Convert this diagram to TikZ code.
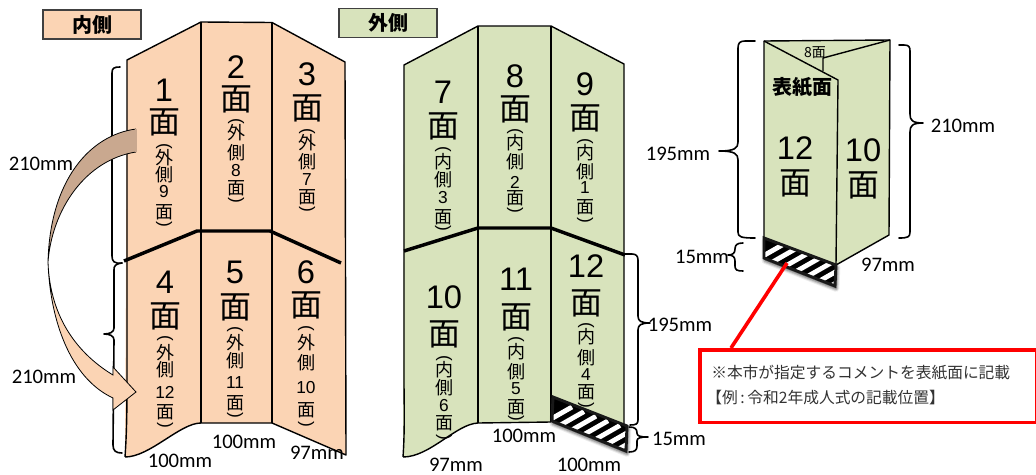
\documentclass[tikz,border=0pt]{standalone}
\usepackage{fontspec}
\setmainfont{Carlito}
\newfontfamily\cjk{Noto Sans CJK JP}
\newfontfamily\lat{Liberation Sans}
\definecolor{peach}{HTML}{FBD4B4}
\definecolor{sage}{HTML}{D8E3BC}
\definecolor{brownish}{HTML}{C9A88F}
\definecolor{boxred}{HTML}{FF0000}
\usetikzlibrary{calc}
\tikzset{
  x=0.75pt,y=-0.75pt,
  panelline/.style={draw=black,line width=1.05pt,line join=round},
  foldline/.style={draw=black,line width=2.6pt,line join=round},
  bracket/.style={draw=black,line width=1.2pt,line cap=round,line join=round},
  titlebox/.style={draw=black!75,line width=1.2pt,minimum width=73.5pt,minimum height=21.5pt,inner sep=0pt,font=\cjk\bfseries\fontsize{15}{15}\selectfont},
  big/.style={inner sep=0pt,font=\cjk\fontsize{24}{24}\selectfont},
  bignum/.style={inner sep=0pt,font=\lat\fontsize{24.5}{24.5}\selectfont},
  small/.style={inner sep=0pt,font=\cjk\fontsize{13.5}{13.5}\selectfont},
  smallnum/.style={inner sep=0pt,font=\lat\fontsize{13}{13}\selectfont},
  paren/.style={inner sep=0pt,font=\lat\fontsize{13}{13}\selectfont},
  dim/.style={inner sep=0pt,font=\fontsize{15.5}{15.5}\selectfont},
}
\newcommand{\facelabel}[9]{%
  \node[bignum] (n#1a) at (#1,#3) {#2};
  \node[big] (n#1b) at (#1,#4) {面};
  \node[paren] (n#1c) at (#1,#5) {\rotatebox{-90}{(}};
  \node[small] (n#1d) at (#1,#6) {#7};
  \node[small] (n#1e) at (#1,#8) {側};
  \facelabelb{#1}{#9}}
\newcommand{\facelabelb}[2]{\facelabelc{#1}#2}
\newcommand{\facelabelc}[5]{%
  \node[smallnum] (n#1f) at (#1,#3) {#2};
  \node[small] (n#1g) at (#1,#4) {面};
  \node[paren] (n#1h) at (#1,#5) {\rotatebox{-90}{)}};}
\newcommand{\strip}[4]{% four corners
  \foreach \s/\o in {5/0.08,3.5/0.12,2/0.18}{
    \draw[black,opacity=\o,line join=round,line width=\s pt,fill=black] ([shift={(1,2.5)}]#1) -- ([shift={(1,2.5)}]#2) -- ([shift={(1,2.5)}]#3) -- ([shift={(1,2.5)}]#4) -- cycle;}
  \begin{scope}
    \clip (#1) -- (#2) -- (#3) -- (#4) -- cycle;
    \fill[black] (#1) -- (#2) -- (#3) -- (#4) -- cycle;
    \foreach \k in {0,1,...,6}{
      \draw[white,line width=3.6pt] ($(#4)+(-8+\k*12,2+\k*4.6)$) -- ++(28,-16);}
  \end{scope}
  \draw[black!90,line width=2.2pt,line join=miter] (#1) -- (#2) -- (#3) -- (#4) -- cycle;}
\begin{document}
\begin{tikzpicture}
\useasboundingbox (0,0) rectangle (1036,475);

% title boxes
\node[titlebox,fill=peach] (tin) at (92,24.5) {内側};
\node[titlebox,fill=sage] (tout) at (388,23) {外側};

% inner sheet
\fill[peach] (127,60) -- (201,22) -- (272,22.5) -- (345,62) -- (346,455) -- (272,423) -- (201,423)
  .. controls (180,423) and (150,457) .. (125,457) -- cycle;
\draw[panelline] (125,457) .. controls (127,430) and (127,400) .. (127,380) -- (127,60) -- (201,22) -- (272,22.5) -- (345,62) -- (346,455) -- (272,423) -- (201,423)
  .. controls (180,423) and (150,457) .. (125,457);
\draw[panelline] (201,22) -- (201,423);
\draw[panelline] (272,22.5) -- (272,423);
\draw[foldline] (124,261) -- (197,231) -- (270,231) -- (341,263);

% inner braces
\draw[bracket] (120,67) .. controls (114,67) and (112,68) .. (112,73) -- (112,256) .. controls (112,261) and (114,264) .. (122,263);
\draw[bracket] (122,263) .. controls (115,264) and (114,266) .. (114,270) -- (114,328) .. controls (114,332) and (110,334) .. (104,334) .. controls (110,334) and (114,336) .. (114,340) -- (113,445) .. controls (113,451) and (116,453) .. (122,453);

% outer sheet
\fill[sage] (404,65) -- (478,26) -- (551,26) -- (624,64) -- (624,425) -- (551,422) -- (478,423)
  .. controls (456,424) and (430,457) .. (403,457) -- cycle;
\draw[panelline] (403,457) .. controls (405,430) and (404,400) .. (404,380) -- (404,65) -- (478,26) -- (551,26) -- (624,64) -- (624,425);
\draw[panelline] (403,457) .. controls (430,457) and (456,424) .. (478,423) -- (551,422);
\draw[panelline] (478,26) -- (478,423);
\draw[panelline] (551,26) -- (551,422);
\draw[foldline] (404,251) -- (478,228) -- (551,228) -- (625,255);

\draw[bracket] (625,254) -- (632,254) .. controls (636,254) and (638,256) .. (638,260) -- (638,316) .. controls (638,321) and (641,323) .. (650,323) .. controls (641,323) and (638,325) .. (638,330) -- (638,420) .. controls (638,424) and (636,425) .. (630,425);
\draw[bracket] (629,427) .. controls (635,427) and (637,429) .. (637,433) .. controls (637,436) and (640,437) .. (648,437) .. controls (640,437) and (637,438) .. (637,441) -- (637,446) .. controls (637,450) and (635,452) .. (629,452);

% inner labels
\facelabel{164}{1}{90}{122}{146}{158}{外}{175}{{9}{192}{212}{224}{}}
\facelabel{236}{2}{67}{99}{121}{133}{外}{153}{{8}{171}{188}{200}{}}
\facelabel{307}{3}{74}{108}{131}{143}{外}{162}{{7}{180}{197}{209}{}}
\facelabel{165}{4}{282}{316}{338}{353}{外}{370}{{12}{392}{412}{425}{}}
\facelabel{235}{5}{272}{307}{329}{343}{外}{361}{{11}{383}{403}{415}{}}
\facelabel{306}{6}{272}{305}{328}{343}{外}{363}{{10}{388}{410}{424}{}}
% outer labels
\facelabel{443}{7}{92}{126}{149}{162}{内}{180}{{3}{198}{217}{228}{}}
\facelabel{515}{8}{76}{109}{131}{143}{内}{162}{{2}{182}{198}{210}{}}
\facelabel{585}{9}{84}{118}{141}{153}{内}{172}{{1}{188}{207}{220}{}}
\facelabel{444}{10}{297}{334}{358}{370}{内}{388}{{6}{406}{423}{437}{}}
\facelabel{516}{11}{279}{317}{339}{352}{内}{372}{{5}{389}{407}{418}{}}
\facelabel{586}{12}{266}{303}{325}{337}{内}{358}{{4}{375}{392}{405}{}}

% hatched strip of the outer sheet
\coordinate (sa) at (553,397);
\coordinate (sb) at (627,426);
\coordinate (sc) at (626,451);
\coordinate (sd) at (552,421);
\strip{sa}{sb}{sc}{sd}

% curved arrow
\fill[brownish] (136,129) .. controls (90,135) and (50,180) .. (48,262) .. controls (52,210) and (85,160) .. (136,152) -- cycle;
\draw[black,line width=0.6pt] (136,129) .. controls (90,135) and (50,180) .. (48,262) .. controls (52,210) and (85,160) .. (136,152);
\draw[brownish,line width=0.8pt] (136,129) -- (136,152);
\fill[peach] (48,262) .. controls (50,320) and (70,378) .. (113,398) -- (113,410) -- (136,392) -- (113,367) -- (113,375) .. controls (80,355) and (50,320) .. (48,262) -- cycle;
\draw[black,line width=0.6pt] (48,262) .. controls (50,320) and (70,378) .. (113,398) -- (113,410) -- (136,392) -- (113,367) -- (113,375) .. controls (80,355) and (50,320) .. (48,262);

% folded leaflet
\fill[sage] (764,41) -- (890,40) -- (889,235) -- (836,265) -- (764,238) -- cycle;
\draw[panelline] (764,238) -- (764,41) -- (890,40) -- (889,235) -- (836,265) -- (764,238);
\draw[panelline] (764,41) -- (838,80) -- (836,265);
\draw[panelline] (890,40) -- (823,58) -- (823,71);
\coordinate (fa) at (764,238);
\coordinate (fb) at (836,265);
\coordinate (fc) at (835,286);
\coordinate (fd) at (764,258);
\strip{fa}{fb}{fc}{fd}

\draw[bracket] (755,41) -- (745,41) .. controls (740,41) and (738,43) .. (738,48) -- (738,142) .. controls (738,148) and (735,151) .. (719,151) .. controls (735,151) and (738,154) .. (738,160) -- (738,232) .. controls (738,237) and (741,238) .. (755,238);
\draw[bracket] (899,45) -- (904,45) .. controls (909,45) and (910,47) .. (910,51) -- (910,114) .. controls (910,120) and (912,123) .. (923,123) .. controls (912,123) and (910,126) .. (910,132) -- (910,232) .. controls (910,237) and (908,238) .. (899,238);
\draw[bracket] (743,243) .. controls (737,243) and (735,245) .. (735,249) .. controls (735,253) and (733,255) .. (728,255) .. controls (733,255) and (735,257) .. (735,261) -- (735,266) .. controls (735,270) and (737,271) .. (743,271);

\node[inner sep=0pt,font=\cjk\fontsize{10.5}{10.5}\selectfont] (n8men) at (815,53) {8面};
\node[inner sep=0pt,font=\cjk\bfseries\fontsize{15}{15}\selectfont] (ncover) at (802,87) {表紙面};
\node[bignum] (nf12) at (795,148) {12};
\node[big] (nf12m) at (795,183) {面};
\node[bignum] (nf10) at (863,150) {10};
\node[big] (nf10m) at (863,185) {面};

% dimensions
\node[dim] (d1) at (41,164) {210mm};
\node[dim] (d2) at (44,377) {210mm};
\node[dim] (d3) at (180,461) {100mm};
\node[dim] (d4) at (244,442) {100mm};
\node[dim] (d5) at (317,453) {97mm};
\node[dim] (d6) at (680,325) {195mm};
\node[dim] (d7) at (679,439) {15mm};
\node[dim] (d8) at (524,436) {100mm};
\node[dim] (d9) at (456,465) {97mm};
\node[dim] (d10) at (589,465) {100mm};
\node[dim] (d11) at (678,154) {195mm};
\node[dim] (d12) at (963,126) {210mm};
\node[dim] (d13) at (702,257) {15mm};
\node[dim] (d14) at (888,265) {97mm};

% callout
\coordinate (ctip) at (787,263);
\node[draw=boxred,line width=2.7pt,fill=white,minimum width=253pt,minimum height=54.5pt,inner sep=0pt,anchor=north west] (callout) at (698,348) {};
\draw[boxred,line width=2.7pt] (ctip) -- (731,348);
\node[anchor=west,inner sep=0pt,text=black!80,font=\cjk\fontsize{11.8}{11.8}\selectfont] (c1) at (711,373) {※本市が指定するコメントを表紙面に記載};
\node[anchor=west,inner sep=0pt,text=black!80,font=\cjk\fontsize{11.8}{11.8}\selectfont] (c2) at (706,398) {【例\,:\,令和2年成人式の記載位置】};
\end{tikzpicture}
\end{document}
